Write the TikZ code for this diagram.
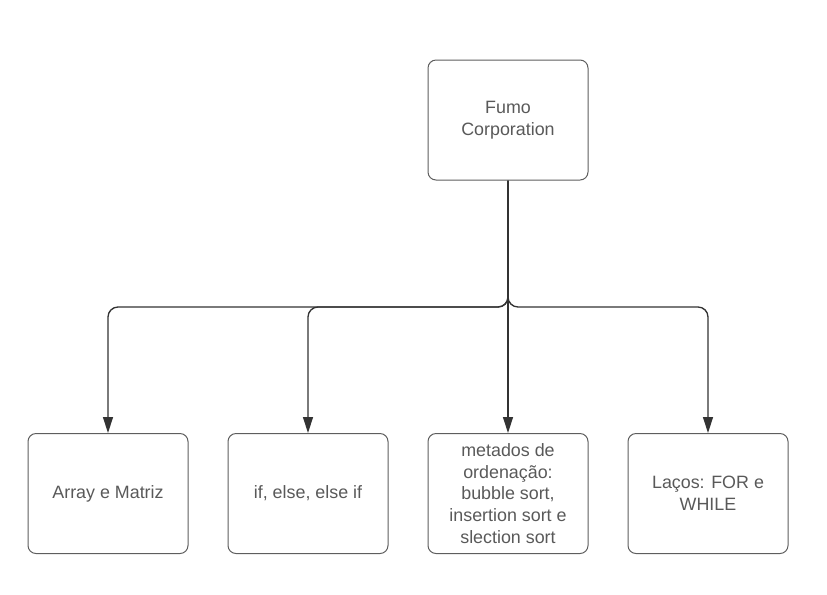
\documentclass[tikz,border=0pt]{standalone}
\usepackage{fontspec}
\setmainfont{Liberation Sans}
\usepackage{tikz}
\usetikzlibrary{arrows.meta}
\definecolor{boxline}{HTML}{5E5E5E}
\definecolor{boxtext}{HTML}{595959}
\definecolor{wiregray}{HTML}{333333}

\begin{document}
\begin{tikzpicture}[x=0.75pt,y=-0.75pt]
    \tikzstyle{block}=[draw=boxline,line width=0.75pt,rounded corners=6pt,minimum width=120pt,minimum height=90pt,inner sep=0pt,align=center,text=boxtext,font=\fontsize{13.4}{16.3}\selectfont]
    \tikzstyle{root block}=[block]
    \tikzstyle{leaf block}=[block]
    \tikzstyle{wire}=[draw=wiregray,line width=1pt,rounded corners=7.5pt,-{Triangle[length=12pt,width=7.5pt]}]
    \def\leafrow{493.5}
    \def\busrow{307}

    \useasboundingbox (0,0) rectangle (827,594);

    % Draw the root node
    \node[root block] (R) at (508,120) {Fumo\\Corporation};

    % Draw the leaf nodes
    \foreach \name / \x / \txt in {1/108/{Array e Matriz},
                                   2/308/{if, else, else if},
                                   3/508/{metados de\\ordenação:\\bubble sort,\\insertion sort e\\slection sort},
                                   4/708/{Laços: FOR e\\WHILE}}
        \node[leaf block] (L-\name) at (\x,\leafrow) {\txt};

    % Junction where the root line meets the bus
    \coordinate (J) at (508,\busrow);

    % Connect the root with every leaf
    \foreach \dest in {1,2,4}
        \path[wire] (R.south) -- (J) -| (L-\dest.north);
    \path[wire] (R.south) -- (L-3.north);

\end{tikzpicture}
\end{document}
